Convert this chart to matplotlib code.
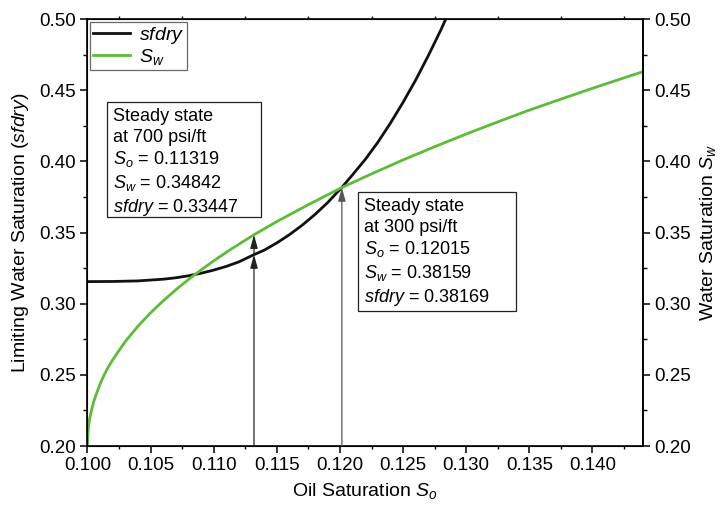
import numpy as np
import matplotlib
matplotlib.use("Agg")
import matplotlib.pyplot as plt
from matplotlib.patches import Rectangle
from matplotlib.ticker import MultipleLocator

plt.rcParams["font.family"] = ["Liberation Sans", "DejaVu Sans"]
plt.rcParams["mathtext.fontset"] = "custom"
plt.rcParams["mathtext.rm"] = "Liberation Sans"
plt.rcParams["mathtext.it"] = "Liberation Sans:italic"

GREEN, BLACK = "#5dbb3a", "#111111"

# Limiting water saturation sfdry vs oil saturation
so_sfdry = [0.100, 0.102, 0.104, 0.106, 0.107, 0.108, 0.109, 0.110, 0.111, 0.112,
            0.11319, 0.114, 0.115, 0.116, 0.117, 0.118, 0.119, 0.12015, 0.121,
            0.122, 0.123, 0.124, 0.125, 0.126, 0.127, 0.128, 0.129]
sfdry = [0.3155, 0.3156, 0.3160, 0.3172, 0.3182, 0.3196, 0.3214, 0.3236, 0.3262, 0.3294,
         0.33447, 0.3376, 0.3427, 0.3485, 0.3551, 0.3625, 0.3708, 0.38169, 0.3906,
         0.4013, 0.4134, 0.4269, 0.4415, 0.4572, 0.4743, 0.4925, 0.5121]

# Water saturation S_w vs oil saturation
so_sw = [0.1000, 0.10002, 0.10005, 0.1001, 0.10015, 0.1002, 0.1003, 0.1004, 0.1005,
         0.1007, 0.1010, 0.1013, 0.1016, 0.1020, 0.1025, 0.1030, 0.1035, 0.1040,
         0.1050, 0.1060, 0.1070, 0.1080, 0.1090, 0.1100, 0.1113, 0.11319, 0.1150,
         0.1175, 0.12015, 0.1225, 0.1250, 0.1275, 0.1300, 0.1325, 0.1350,
         0.1375, 0.1400, 0.1420, 0.1440]
sw = [0.200, 0.2067, 0.2105, 0.2148, 0.2180, 0.2203, 0.2245, 0.2280, 0.2313,
      0.2365, 0.2436, 0.2496, 0.2547, 0.2606, 0.2671, 0.2734, 0.2789, 0.2842,
      0.2936, 0.3020, 0.3098, 0.3170, 0.3237, 0.3301, 0.3379, 0.34842, 0.3577,
      0.3696, 0.38159, 0.3912, 0.4010, 0.4103, 0.4192, 0.4277, 0.4360,
      0.4437, 0.4513, 0.4572, 0.4630]

# steady-state points: (So, Sw, sfdry)
ss_700 = (0.11319, 0.34842, 0.33447)
ss_300 = (0.12015, 0.38159, 0.38169)

fig = plt.figure(figsize=(7.2, 5.07), dpi=100)
ax = fig.add_axes([0.1215, 0.1203, 0.7715, 0.8422])
ax.plot(so_sfdry, sfdry, color=BLACK, lw=2.0, label=r"$sfdry$")
ax.plot(so_sw, sw, color=GREEN, lw=2.0, label=r"$S_w$")

ax.set_xlim(0.100, 0.144)
ax.set_ylim(0.20, 0.50)
ax.xaxis.set_major_locator(MultipleLocator(0.005))
ax.xaxis.set_minor_locator(MultipleLocator(0.0025))
ax.yaxis.set_major_locator(MultipleLocator(0.05))
ax.yaxis.set_minor_locator(MultipleLocator(0.025))
ax.xaxis.set_major_formatter(plt.FormatStrFormatter("%.3f"))
ax.yaxis.set_major_formatter(plt.FormatStrFormatter("%.2f"))
ax.tick_params(which="major", direction="out", length=5, width=1.1, labelsize=13.5, pad=3)
ax.tick_params(which="minor", direction="out", length=3, width=1.0)
ax.tick_params(axis="x", which="major", top=False)
ax.tick_params(axis="x", which="minor", top=True, length=2)
ax.tick_params(axis="y", which="both", right=False)
for sp in ax.spines.values():
    sp.set_linewidth(1.2)

ax2 = ax.twinx()
ax2.set_ylim(0.20, 0.50)
ax2.yaxis.set_major_locator(MultipleLocator(0.05))
ax2.yaxis.set_minor_locator(MultipleLocator(0.025))
ax2.yaxis.set_major_formatter(plt.FormatStrFormatter("%.2f"))
ax2.tick_params(which="major", direction="out", length=5, width=1.1, labelsize=13.5, pad=3)
ax2.tick_params(which="minor", direction="out", length=3, width=1.0)
ax2.spines["right"].set_linewidth(1.2)

ax.set_xlabel(r"Oil Saturation $S_o$", fontsize=14, labelpad=5)
ax.set_ylabel(r"Limiting Water Saturation ($sfdry$)", fontsize=14, labelpad=6)
ax2.set_ylabel(r"Water Saturation $S_w$", fontsize=14, labelpad=5)

# arrows from the x axis up to the curves
arr = dict(arrowstyle="-|>,head_length=0.9,head_width=0.25", color="#222222", lw=0.9,
           mutation_scale=9, shrinkA=0, shrinkB=0)
ax.annotate("", xy=(ss_700[0], ss_700[2]), xytext=(ss_700[0], 0.20), arrowprops=arr)
ax.annotate("", xy=(ss_700[0], ss_700[1]), xytext=(ss_700[0], ss_700[2]), arrowprops=arr)
ax.annotate("", xy=(ss_300[0], ss_300[1]), xytext=(ss_300[0], 0.20),
            arrowprops=dict(arr, color="#555555"))


def note(x0, x1, y0, y1, psi, pt):
    ax.add_patch(Rectangle((x0, y0), x1 - x0, y1 - y0, fc="white", ec="#222222",
                           lw=0.9, zorder=4))
    ax.text(x0 + 0.00052, y1 - 0.0045,
            f"Steady state\nat {psi} psi/ft\n"
            rf"$S_o$ = {pt[0]:.5f}" "\n"
            rf"$S_w$ = {pt[1]:.5f}" "\n"
            rf"$sfdry$ = {pt[2]:.5f}",
            fontsize=13, va="top", ha="left", linespacing=1.25, zorder=5)


note(0.10154, 0.11374, 0.3609, 0.4417, 700, ss_700)
note(0.12142, 0.13393, 0.29485, 0.37846, 300, ss_300)

leg = ax.legend(loc="upper left", fontsize=14, frameon=True, fancybox=False,
                borderaxespad=0.15, handlelength=1.9, borderpad=0.15, labelspacing=0.05,
                handletextpad=0.45)
leg.get_frame().set_edgecolor("#444444")
leg.get_frame().set_linewidth(0.9)

fig.savefig("out.png", dpi=100)
